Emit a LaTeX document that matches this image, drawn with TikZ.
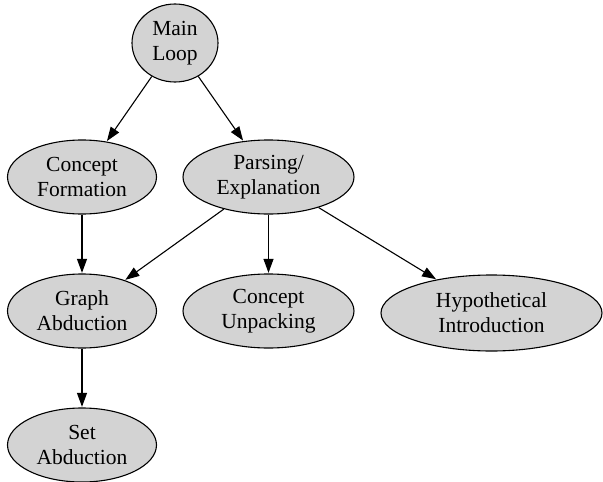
\documentclass[tikz,border=0pt]{standalone}
\usepackage{fontspec}
\setmainfont{Liberation Serif}
\usetikzlibrary{shapes.geometric,arrows.meta}
\definecolor{lgray}{HTML}{D3D3D3}
\begin{document}
\begin{tikzpicture}[x=1pt,y=1pt,
  gnode/.style={ellipse,draw=black,fill=lgray,line width=1.1pt,inner sep=0pt,
    align=center,font=\fontsize{21.5}{25}\selectfont,minimum height=74pt},
  garrow/.style={-{Triangle[length=14pt,width=10pt]},line width=1.1pt,shorten >=0.6pt}]
\useasboundingbox (0,0) rectangle (603,-482);
\node[gnode,minimum width=86pt,minimum height=78pt] (main) at (175,-43) {Main\\Loop};
\node[gnode,minimum width=149pt] (cf) at (82,-177) {Concept\\Formation};
\node[gnode,minimum width=171pt] (pe) at (268.5,-177) {Parsing/\\Explanation};
\node[gnode,minimum width=149pt] (ga) at (82,-311) {Graph\\Abduction};
\node[gnode,minimum width=171pt] (cu) at (268.5,-311) {Concept\\Unpacking};
\node[gnode,minimum width=221pt,minimum height=76pt] (hi) at (491.5,-313) {Hypothetical\\Introduction};
\node[gnode,minimum width=149pt] (sa) at (82,-445) {Set\\Abduction};
\draw[garrow] (main) -- (cf);
\draw[garrow] (main) -- (pe);
\draw[garrow] (cf) -- (ga);
\draw[garrow] (pe) -- (ga);
\draw[garrow] (pe) -- (cu);
\draw[garrow] (pe) -- (hi);
\draw[garrow] (ga) -- (sa);
\end{tikzpicture}
\end{document}
